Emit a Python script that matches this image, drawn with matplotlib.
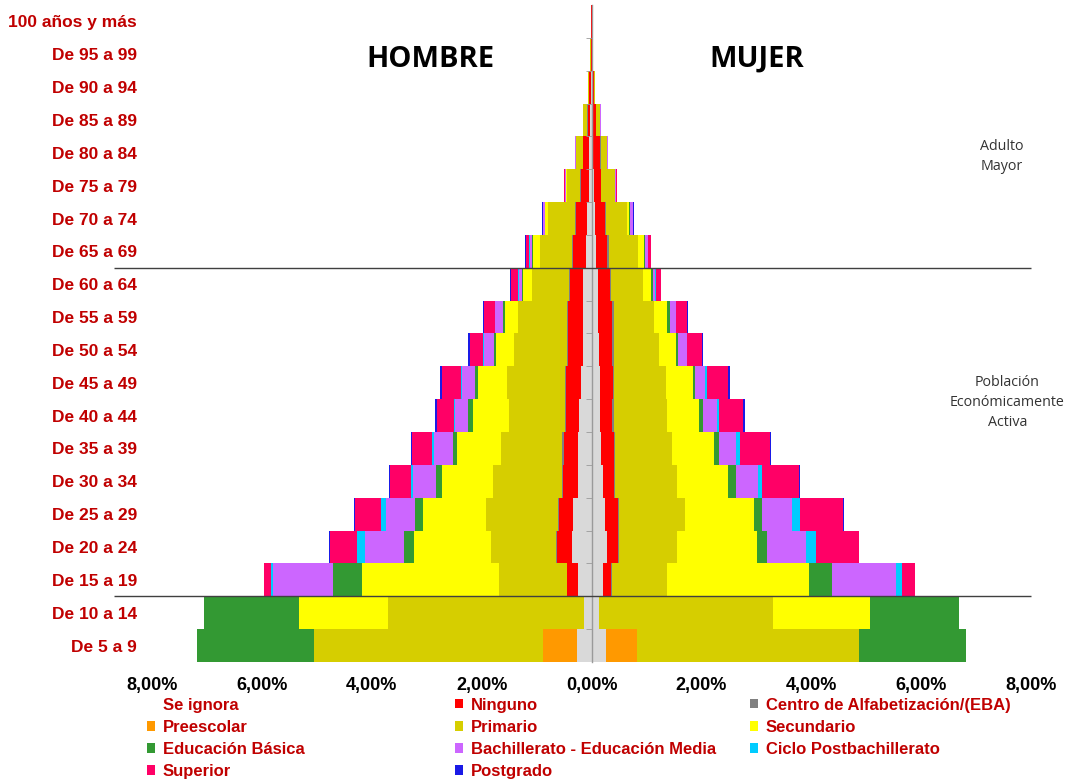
import numpy as np
import matplotlib.pyplot as plt
from matplotlib.patches import Patch
from matplotlib.ticker import FixedLocator

plt.rcParams['font.family'] = ['Liberation Sans', 'DejaVu Sans']

ages = ["De 5 a 9", "De 10 a 14", "De 15 a 19", "De 20 a 24", "De 25 a 29",
        "De 30 a 34", "De 35 a 39", "De 40 a 44", "De 45 a 49", "De 50 a 54",
        "De 55 a 59", "De 60 a 64", "De 65 a 69", "De 70 a 74", "De 75 a 79",
        "De 80 a 84", "De 85 a 89", "De 90 a 94", "De 95 a 99", "100 años y más"]

levels = ["Se ignora", "Ninguno", "Centro de Alfabetización/(EBA)", "Preescolar",
          "Primario", "Secundario", "Educación Básica", "Bachillerato - Educación Media",
          "Ciclo Postbachillerato", "Superior", "Postgrado"]

colors = ['#D9D9D9', '#FF0000', '#808080', '#FF9900', '#D6CE00', '#FFFF00',
          '#339933', '#CC66FF', '#00CCFF', '#FF0066', '#1A1AE6']

# percent of total population, rows from "De 5 a 9" up to "100 años y más"
hombre_ignora = [0.27, 0.13, 0.24, 0.36, 0.33, 0.25, 0.24, 0.22, 0.20, 0.16,
                 0.15, 0.15, 0.11, 0.09, 0.05, 0.04, 0.02, 0.01, 0.0, 0.0]
hombre_ninguno = [0.0, 0.01, 0.20, 0.27, 0.27, 0.27, 0.27, 0.25, 0.27, 0.27,
                  0.27, 0.24, 0.22, 0.20, 0.15, 0.11, 0.05, 0.03, 0.01, 0.005]
hombre_centro = [0.0, 0.0, 0.01, 0.01, 0.01, 0.02, 0.02, 0.02, 0.02, 0.02,
                 0.02, 0.02, 0.02, 0.01, 0.01, 0.01, 0.01, 0.0, 0.0, 0.0]
hombre_preescolar = [0.62, 0, 0, 0, 0, 0, 0, 0, 0, 0, 0, 0, 0, 0, 0, 0, 0, 0, 0, 0]
hombre_primario = [4.16, 3.56, 1.23, 1.19, 1.32, 1.25, 1.11, 1.02, 1.05, 0.96,
                   0.89, 0.67, 0.58, 0.50, 0.23, 0.12, 0.07, 0.03, 0.01, 0.005]
hombre_secundario = [0.0, 1.62, 2.49, 1.40, 1.13, 0.93, 0.80, 0.64, 0.53, 0.33,
                     0.25, 0.16, 0.13, 0.04, 0.02, 0.01, 0.0, 0.0, 0.0, 0.0]
hombre_basica = [2.13, 1.73, 0.53, 0.18, 0.15, 0.11, 0.09, 0.09, 0.05, 0.04,
                 0.04, 0.03, 0.02, 0.01, 0.0, 0.0, 0.0, 0.0, 0.0, 0.0]
hombre_bachillerato = [0.0, 0.0, 1.09, 0.71, 0.53, 0.42, 0.33, 0.25, 0.24, 0.18,
                       0.13, 0.05, 0.04, 0.03, 0.03, 0.01, 0.01, 0.0, 0.0, 0.0]
hombre_postbach = [0.0, 0.0, 0.05, 0.15, 0.09, 0.04, 0.04, 0.02, 0.02, 0.01,
                   0.01, 0.01, 0.01, 0.0, 0.0, 0.0, 0.0, 0.0, 0.0, 0.0]
hombre_superior = [0.0, 0.0, 0.13, 0.49, 0.47, 0.38, 0.36, 0.31, 0.35, 0.24,
                   0.20, 0.13, 0.07, 0.01, 0.01, 0.0, 0.0, 0.0, 0.0, 0.0]
hombre_postgrado = [0.0, 0.0, 0.0, 0.01, 0.02, 0.02, 0.02, 0.03, 0.03, 0.03,
                    0.02, 0.02, 0.02, 0.01, 0.01, 0.0, 0.0, 0.0, 0.0, 0.0]

mujer_ignora = [0.27, 0.13, 0.20, 0.29, 0.25, 0.20, 0.18, 0.16, 0.15, 0.13,
                0.11, 0.11, 0.09, 0.07, 0.04, 0.03, 0.01, 0.0, 0.0, 0.0]
mujer_ninguno = [0.0, 0.01, 0.16, 0.20, 0.24, 0.20, 0.22, 0.22, 0.24, 0.25,
                 0.27, 0.22, 0.20, 0.18, 0.13, 0.13, 0.07, 0.04, 0.01, 0.005]
mujer_centro = [0.0, 0.0, 0.01, 0.01, 0.01, 0.02, 0.02, 0.02, 0.02, 0.02,
                0.02, 0.02, 0.02, 0.01, 0.01, 0.01, 0.01, 0.0, 0.0, 0.0]
mujer_preescolar = [0.56, 0, 0, 0, 0, 0, 0, 0, 0, 0, 0, 0, 0, 0, 0, 0, 0, 0, 0, 0]
mujer_primario = [4.04, 3.16, 1.01, 1.06, 1.21, 1.13, 1.05, 0.98, 0.94, 0.82,
                  0.73, 0.58, 0.53, 0.39, 0.24, 0.12, 0.07, 0.03, 0.01, 0.005]
mujer_secundario = [0.0, 1.76, 2.58, 1.45, 1.24, 0.93, 0.76, 0.58, 0.49, 0.31,
                    0.25, 0.15, 0.11, 0.04, 0.01, 0.0, 0.0, 0.0, 0.0, 0.0]
mujer_basica = [1.95, 1.62, 0.42, 0.18, 0.16, 0.15, 0.09, 0.07, 0.04, 0.04,
                0.04, 0.03, 0.02, 0.01, 0.0, 0.0, 0.0, 0.0, 0.0, 0.0]
mujer_bachillerato = [0.0, 0.0, 1.16, 0.71, 0.53, 0.40, 0.31, 0.25, 0.18, 0.16,
                      0.11, 0.05, 0.05, 0.05, 0.02, 0.01, 0.01, 0.0, 0.0, 0.0]
mujer_postbach = [0.0, 0.0, 0.11, 0.18, 0.15, 0.07, 0.07, 0.04, 0.05, 0.01,
                  0.01, 0.01, 0.01, 0.0, 0.0, 0.0, 0.0, 0.0, 0.0, 0.0]
mujer_superior = [0.0, 0.0, 0.24, 0.78, 0.78, 0.67, 0.55, 0.44, 0.38, 0.27,
                  0.20, 0.09, 0.05, 0.01, 0.01, 0.0, 0.0, 0.0, 0.0, 0.0]
mujer_postgrado = [0.0, 0.0, 0.0, 0.01, 0.03, 0.02, 0.02, 0.03, 0.03, 0.02,
                   0.02, 0.01, 0.01, 0.01, 0.0, 0.0, 0.0, 0.0, 0.0, 0.0]

hombre = [hombre_ignora, hombre_ninguno, hombre_centro, hombre_preescolar,
          hombre_primario, hombre_secundario, hombre_basica, hombre_bachillerato,
          hombre_postbach, hombre_superior, hombre_postgrado]
mujer = [mujer_ignora, mujer_ninguno, mujer_centro, mujer_preescolar,
         mujer_primario, mujer_secundario, mujer_basica, mujer_bachillerato,
         mujer_postbach, mujer_superior, mujer_postgrado]

xticks = [-8, -6, -4, -2, 0, 2, 4, 6, 8]
xlabels = ["8,00%", "6,00%", "4,00%", "2,00%", "0,00%", "2,00%", "4,00%", "6,00%", "8,00%"]

label_red = '#C00000'

fig = plt.figure(figsize=(10.73, 7.82), dpi=100)
ax = fig.add_axes([0.1417, 0.1535, 0.8192, 0.8401])

y = np.arange(len(ages))
cum_h = np.zeros(len(ages))
cum_m = np.zeros(len(ages))

for i in range(len(levels)):
    h = np.array(hombre[i])
    m = np.array(mujer[i])
    ax.barh(y, -h, left=-cum_h, height=1.0, color=colors[i], linewidth=0, zorder=1)
    ax.barh(y, m, left=cum_m, height=1.0, color=colors[i], linewidth=0, zorder=1)
    cum_h += h
    cum_m += m

ax.set_xlim(-8, 8)
ax.set_ylim(-0.5, len(ages) - 0.5)

for s in ['top', 'bottom', 'left']:
    ax.spines[s].set_visible(False)

# center axis line with small ticks between age groups
ax.spines['right'].set_position(('data', 0))
ax.spines['right'].set_color('#9A9A9A')
ax.spines['right'].set_linewidth(1.0)

ax.set_yticks(y)
ax.set_yticklabels(ages, fontsize=12.5, fontweight='bold', color=label_red)
ax.yaxis.set_minor_locator(FixedLocator(y[:-1] + 0.5))
ax.tick_params(axis='y', which='major', left=True, right=False, length=0, pad=11,
               labelleft=True, labelright=False)
ax.tick_params(axis='y', which='minor', right=True, left=False, direction='in',
               length=4, color='#9A9A9A')

ax.set_xticks(xticks)
ax.set_xticklabels(xlabels, fontsize=13, fontweight='bold')
ax.tick_params(axis='x', length=0, pad=10.5)

# separators between groups
for yy in [1.5, 11.5]:
    ax.hlines(yy, -8.7, 8.0, color='#404040', linewidth=1.0, clip_on=False, zorder=3)

ax.text(-2.93, 17.85, "HOMBRE", fontsize=21, fontweight='bold', family='Open Sans',
        ha='center', va='center')
ax.text(3.0, 17.85, "MUJER", fontsize=21, fontweight='bold', family='Open Sans',
        ha='center', va='center')
ax.text(7.47, 14.9, "Adulto\nMayor", fontsize=10.3, family='Open Sans', color='#333333',
        ha='center', va='center', linespacing=1.44)
ax.text(7.57, 7.4, "Población\nEconómicamente\nActiva", fontsize=10.3, family='Open Sans',
        color='#333333', ha='center', va='center', linespacing=1.44, clip_on=False)

# legend, three columns filled row by row
handles = []
for i in range(len(levels)):
    c = 'white' if i == 0 else colors[i]
    handles.append(Patch(facecolor=c, edgecolor='none', label=levels[i]))

col_x = [0.137, 0.424, 0.699]
for k in range(3):
    hs = handles[k::3]
    leg = fig.legend(handles=hs, loc='upper left', bbox_to_anchor=(col_x[k], 0.108),
                     frameon=False, borderpad=0, borderaxespad=0, handlelength=0.5,
                     handleheight=0.5, handletextpad=0.45, labelspacing=0.43,
                     prop={'size': 12, 'weight': 'bold'})
    for t in leg.get_texts():
        t.set_color(label_red)

fig.savefig('out.png', dpi=100)
